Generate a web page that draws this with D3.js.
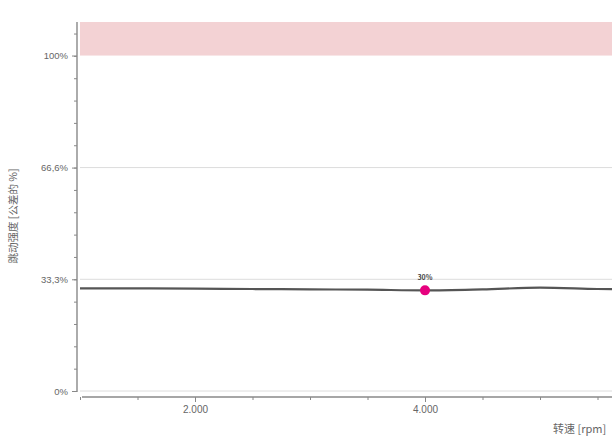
<!DOCTYPE html>
<html>
<head>
<meta charset="utf-8">
<script src="https://cdn.jsdelivr.net/npm/d3@7"></script>
<style>
  html, body { margin: 0; padding: 0; background: #fff; }
  svg { display: block; font-family: "Noto Sans CJK SC", "Noto Sans", sans-serif; }
</style>
</head>
<body>
<svg id="chart" width="612" height="439"></svg>
<script>
// Runout intensity over engine speed
const speeds = [1000, 1500, 2000, 2500, 3000, 3500, 4000, 4500, 5000, 5500, 6000];
const runout = [30.6, 30.6, 30.5, 30.4, 30.3, 30.2, 30.0, 30.3, 30.8, 30.4, 30.2];
const markerSpeed = 4000;
const markerValue = 30;
const toleranceBand = [100, 110];
const yMajorTicks = [0, 33.3, 66.6, 100];
const yMajorLabels = ["0%", "33,3%", "66,6%", "100%"];
const xMajorTicks = [2000, 4000];
const xMajorLabels = ["2.000", "4.000"];
const xTitle = "转速 [rpm]";
const yTitle = "跳动强度 [公差的 %]";

const svg = d3.select("#chart");
const W = 612;

const x = d3.scaleLinear().domain([1000, 6000]).range([80, 655]);
const y = d3.scaleLinear().domain([0, 110]).range([391, 22]);

// tolerance exceed band
svg.append("rect")
  .attr("x", x(1000))
  .attr("y", y(toleranceBand[1]))
  .attr("width", W - x(1000))
  .attr("height", y(toleranceBand[0]) - y(toleranceBand[1]))
  .attr("fill", "#f3d2d4");

// horizontal grid lines
svg.append("g").selectAll("line")
  .data(yMajorTicks.slice(0, 3))
  .join("line")
  .attr("x1", x(1000)).attr("x2", W)
  .attr("y1", d => y(d)).attr("y2", d => y(d))
  .attr("stroke", "#dcdcdc")
  .attr("stroke-width", 1);

// y axis: minor ticks every fifth of a major step
const yAxisG = svg.append("g").attr("transform", "translate(77,0)");
yAxisG.call(d3.axisLeft(y).tickValues(d3.range(0, 17).map(i => i * 33.3 / 5)).tickSize(3).tickFormat(""))
  .call(g => g.select(".domain").remove());
yAxisG.selectAll(".tick line").attr("stroke", "#888");
yAxisG.append("line")
  .attr("x1", 0).attr("x2", 0)
  .attr("y1", y(110)).attr("y2", y(0) + 1)
  .attr("stroke", "#888").attr("stroke-width", 1.4);
const yMajorG = svg.append("g").attr("transform", "translate(77,0)");
yMajorG.call(d3.axisLeft(y).tickValues(yMajorTicks).tickSize(5)
    .tickFormat((d, i) => yMajorLabels[i]))
  .call(g => g.select(".domain").remove());
yMajorG.selectAll(".tick line").attr("stroke", "#888");
yMajorG.selectAll(".tick text")
  .attr("fill", "#666").attr("font-size", 9.5).attr("x", -9);

// x axis: minor ticks every 500 rpm
const xAxisG = svg.append("g").attr("transform", "translate(0,397)");
xAxisG.call(d3.axisBottom(x).tickValues(d3.range(1000, 6001, 500)).tickSize(3).tickFormat(""))
  .call(g => g.select(".domain").remove());
xAxisG.selectAll(".tick line").attr("stroke", "#888");
xAxisG.append("line")
  .attr("x1", x(1000) + 2).attr("x2", W)
  .attr("y1", 0).attr("y2", 0)
  .attr("stroke", "#888").attr("stroke-width", 1.4);
const xMajorG = svg.append("g").attr("transform", "translate(0,397)");
xMajorG.call(d3.axisBottom(x).tickValues(xMajorTicks).tickSize(5)
    .tickFormat((d, i) => xMajorLabels[i]))
  .call(g => g.select(".domain").remove());
xMajorG.selectAll(".tick line").attr("stroke", "#888");
xMajorG.selectAll(".tick text")
  .attr("fill", "#666").attr("font-size", 10).attr("y", 9);

// axis titles
svg.append("text")
  .attr("x", 553).attr("y", 433)
  .attr("fill", "#666").attr("font-size", 11)
  .text(xTitle);
svg.append("text")
  .attr("transform", "translate(17,216) rotate(-90)")
  .attr("text-anchor", "middle")
  .attr("fill", "#666").attr("font-size", 10.5)
  .text(yTitle);

// runout curve
const line = d3.line()
  .x((d, i) => x(speeds[i]))
  .y(d => y(d))
  .curve(d3.curveMonotoneX);
svg.append("path")
  .datum(runout)
  .attr("d", line)
  .attr("fill", "none")
  .attr("stroke", "#555")
  .attr("stroke-width", 2.2);

// current operating point
svg.append("circle")
  .attr("cx", x(markerSpeed)).attr("cy", y(markerValue))
  .attr("r", 5).attr("fill", "#e6007e");
svg.append("text")
  .attr("x", x(markerSpeed)).attr("y", y(markerValue) - 10)
  .attr("text-anchor", "middle")
  .attr("fill", "#444").attr("font-size", 7).attr("font-weight", "bold")
  .text(markerValue + "%");
</script>
</body>
</html>
